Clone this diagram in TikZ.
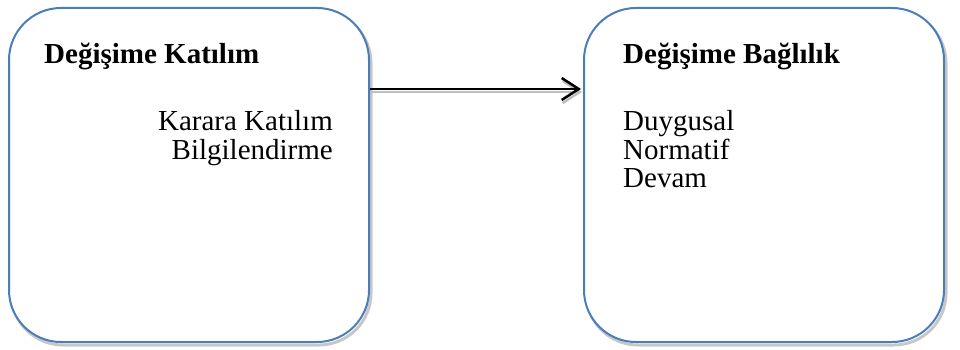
\documentclass[tikz,border=0pt]{standalone}
\usepackage{fontspec}
\setmainfont{Liberation Serif}
\usetikzlibrary{arrows.meta}
\definecolor{boxblue}{HTML}{4A7EBB}
\begin{document}
\begin{tikzpicture}[x=1pt,y=-1pt,
  card/.style={draw=boxblue,line width=2pt,fill=white,rounded corners=52pt,minimum width=360pt,minimum height=334pt,inner sep=0pt},
  cardshadow/.style={draw=black!22,line width=3pt,rounded corners=52pt,minimum width=360pt,minimum height=334pt,inner sep=0pt},
  txt/.style={font=\fontsize{29}{34}\selectfont,inner sep=0pt},
  head/.style={txt,font=\fontsize{29}{34}\selectfont\bfseries}]
\useasboundingbox (0,0) rectangle (960,350);
\node[cardshadow] (ls) at (191,178) {};
\node[cardshadow] (rs) at (766,178) {};
\node[card] (left) at (189,175) {};
\node[card] (right) at (764,175) {};
\node[head,anchor=base west] (lh) at (44,64) {Değişime Katılım};
\node[head,anchor=base west] (rh) at (623,64) {Değişime Bağlılık};
\node[txt,anchor=base east] (l1) at (333,130) {Karara Katılım};
\node[txt,anchor=base east] (l2) at (333,159) {Bilgilendirme};
\node[txt,anchor=base west] (r1) at (623,131) {Duygusal};
\node[txt,anchor=base west] (r2) at (623,159) {Normatif};
\node[txt,anchor=base west] (r3) at (623,187) {Devam};
\coordinate (a1) at (left.east |- 0,89);
\coordinate (a2) at (right.west |- 0,89);
\draw[black!25,line width=2.5pt,-{Straight Barb[length=17pt,width=22pt,line width=2.5pt]}] ([shift={(1,3)}]a1) -- ([shift={(-1,3)}]a2);
\draw[black,line width=2.5pt,-{Straight Barb[length=17pt,width=22pt,line width=2.5pt]}] (a1) -- ([xshift=-2pt]a2);
\end{tikzpicture}
\end{document}
